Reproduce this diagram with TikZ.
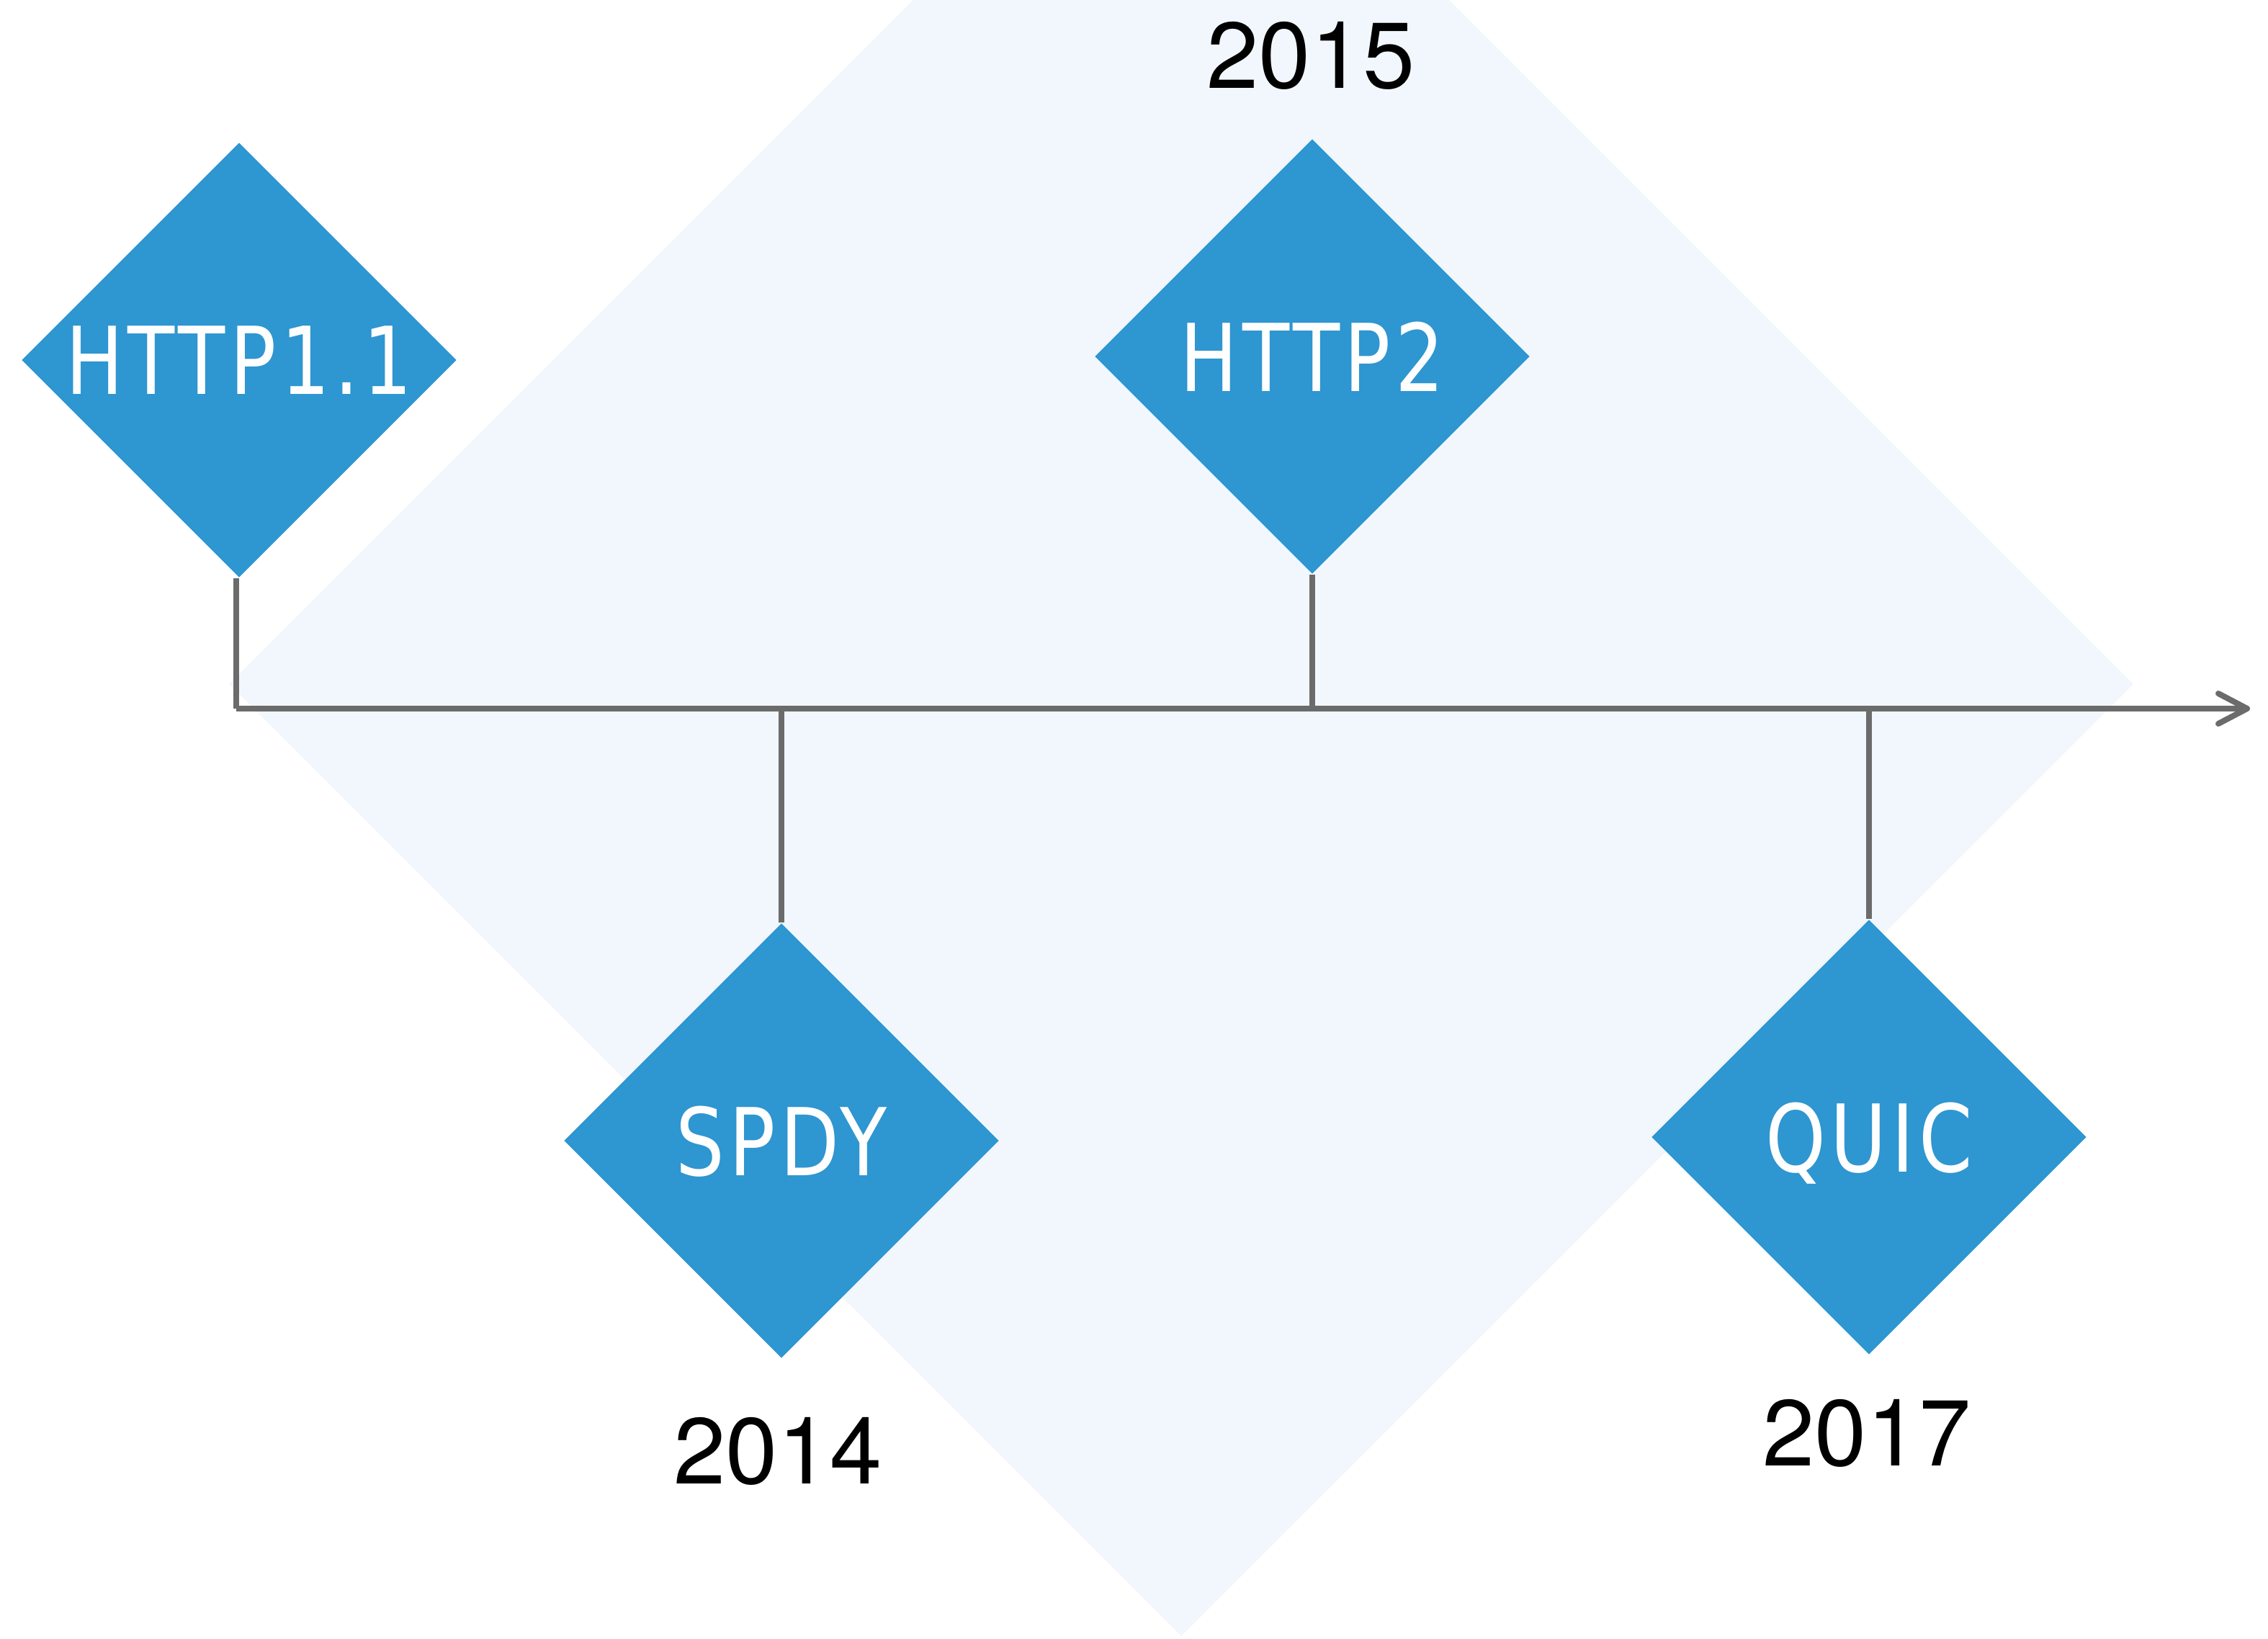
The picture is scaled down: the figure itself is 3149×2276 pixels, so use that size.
\documentclass[tikz,border=0pt]{standalone}
\usepackage{fontspec}
\setmainfont{TeX Gyre Heros}
\newfontfamily\labelfont[FakeStretch=0.82,LetterSpace=5]{DejaVu Sans}
\usetikzlibrary{shapes.geometric,arrows.meta}
\definecolor{bgblue}{HTML}{F1F7FC}
\definecolor{nodeblue}{HTML}{2E96D1}
\definecolor{linegray}{HTML}{6B6B6B}
\begin{document}
\begin{tikzpicture}[x=0.25pt,y=-0.25pt,
  evt/.style={shape=diamond, fill=nodeblue, minimum width=151pt, minimum height=151pt, inner sep=0pt, text=white, font=\labelfont\fontsize{32.5}{38}\selectfont, text depth=0pt},
  yr/.style={font=\fontsize{32.5}{38}\selectfont, text=black, inner sep=0pt},
  conn/.style={draw=linegray, line width=2pt}]
\useasboundingbox (0,0) rectangle (3149,2276);
\begin{scope}
\clip (0,0) rectangle (3149,2276);
\fill[bgblue] (318,950) -- (1640,-372) -- (2962,950) -- (1640,2272) -- cycle;
\end{scope}
\coordinate (axstart) at (328,984);
\coordinate (axend) at (3124,984);
\node[evt] (h11) at (332,500) {HTTP1.1};
\node[evt] (h2) at (1822,495) {HTTP2};
\node[evt] (spdy) at (1085,1584) {SPDY};
\node[evt] (quic) at (2595,1579) {QUIC};
\draw[conn, -{Straight Barb[length=10pt,width=10.5pt,round]}] (axstart) -- (axend);
\draw[conn] (h11.south -| axstart) -- (axstart);
\draw[conn] (h2.south) -- (h2.south |- axstart);
\draw[conn] (spdy.north) -- (spdy.north |- axstart);
\draw[conn] (quic.north) -- (quic.north |- axstart);
\node[yr] (y2015) at (1820,77) {2015};
\node[yr] (y2014) at (1080,2015) {2014};
\node[yr] (y2017) at (2592,1990) {2017};
\end{tikzpicture}
\end{document}
